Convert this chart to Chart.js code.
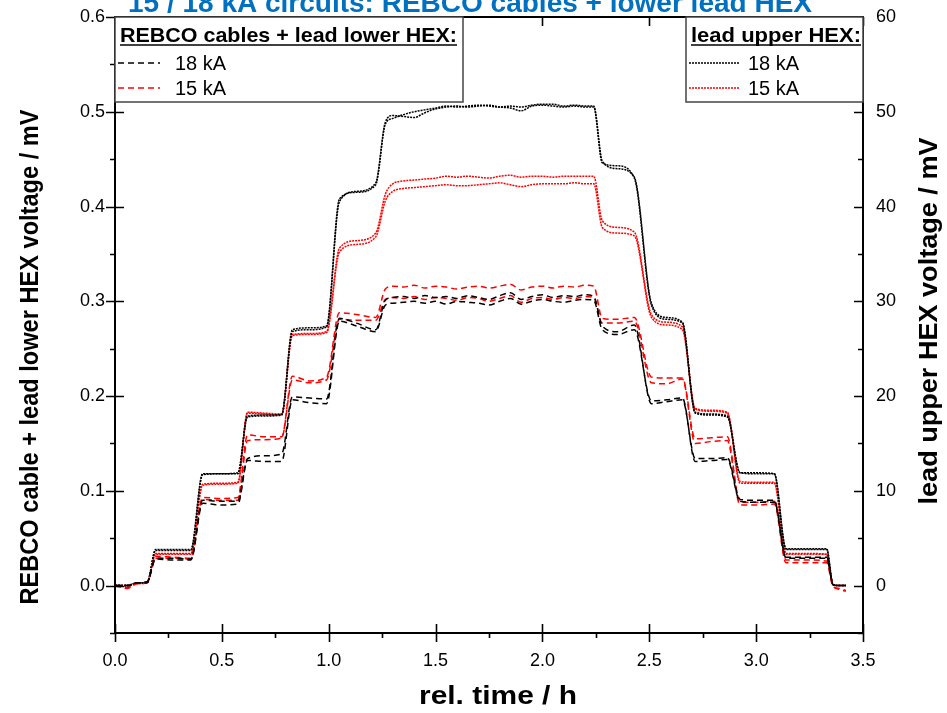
<!DOCTYPE html>
<html>
<head>
<meta charset="utf-8">
<title>15 / 18 kA circuits: REBCO cables + lower lead HEX</title>
<script src="https://cdn.jsdelivr.net/npm/chart.js@4.4.1/dist/chart.umd.min.js"></script>
<style>
html, body { margin: 0; padding: 0; background: #fff; overflow: hidden; }
#wrap { position: relative; width: 947px; height: 713px; }
</style>
</head>
<body>
<div id="wrap"><canvas id="voltChart"></canvas></div>
<script>

// rel. time / h (shared by all traces)
const hours = [
    0.00, 0.06, 0.085, 0.10, 0.15, 0.19, 0.27, 0.355, 0.41, 0.49,
    0.575, 0.62, 0.70, 0.78, 0.83, 0.91, 0.99, 1.05, 1.13, 1.22,
    1.265, 1.30, 1.35, 1.40, 1.45, 1.50, 1.55, 1.60, 1.65, 1.70,
    1.75, 1.80, 1.85, 1.90, 1.95, 2.00, 2.05, 2.10, 2.15, 2.20,
    2.24, 2.28, 2.35, 2.43, 2.51, 2.58, 2.655, 2.715, 2.79, 2.865,
    2.925, 3.00, 3.085, 3.14, 3.23, 3.33, 3.36, 3.39, 3.42
];

const xTicks = [0, 0.5, 1.0, 1.5, 2.0, 2.5, 3.0, 3.5];
const leftTicks = [0, 0.1, 0.2, 0.3, 0.4, 0.5, 0.6];
const rightTicks = [0, 10, 20, 30, 40, 50, 60];

// REBCO cables + lead lower HEX voltage / mV  (left axis)
const lower18a = [
    0, 0, 0.002, 0.003, 0.004, 0.029, 0.029, 0.028, 0.090, 0.089,
    0.089, 0.134, 0.137, 0.139, 0.199, 0.198, 0.197, 0.282, 0.277, 0.270,
    0.301, 0.304, 0.305, 0.303, 0.306, 0.304, 0.305, 0.303, 0.306, 0.304,
    0.302, 0.306, 0.309, 0.302, 0.305, 0.307, 0.304, 0.306, 0.305, 0.307,
    0.305, 0.274, 0.268, 0.275, 0.192, 0.194, 0.196, 0.134, 0.134, 0.135,
    0.091, 0.090, 0.090, 0.029, 0.029, 0.029, 0.001, 0, 0
];
const lower18b = [
    0, 0, 0.001, 0.003, 0.003, 0.028, 0.027, 0.027, 0.087, 0.085,
    0.086, 0.132, 0.131, 0.131, 0.196, 0.193, 0.192, 0.279, 0.274, 0.268,
    0.296, 0.298, 0.299, 0.300, 0.298, 0.300, 0.297, 0.300, 0.299, 0.298,
    0.296, 0.300, 0.303, 0.297, 0.300, 0.302, 0.300, 0.299, 0.301, 0.302,
    0.301, 0.270, 0.265, 0.270, 0.195, 0.196, 0.198, 0.131, 0.132, 0.133,
    0.089, 0.088, 0.088, 0.030, 0.030, 0.030, 0.001, 0, 0
];
const lower15a = [
    0, -0.002, 0.001, 0.003, 0.004, 0.031, 0.030, 0.029, 0.093, 0.092,
    0.093, 0.159, 0.157, 0.157, 0.221, 0.216, 0.220, 0.288, 0.286, 0.283,
    0.313, 0.316, 0.315, 0.317, 0.314, 0.316, 0.315, 0.313, 0.315, 0.316,
    0.314, 0.316, 0.318, 0.312, 0.315, 0.316, 0.314, 0.316, 0.315, 0.317,
    0.316, 0.282, 0.281, 0.283, 0.220, 0.219, 0.219, 0.155, 0.156, 0.157,
    0.088, 0.088, 0.089, 0.027, 0.027, 0.026, 0.000, -0.004, -0.006
];
const lower15b = [
    0, -0.003, 0.000, 0.002, 0.003, 0.029, 0.029, 0.028, 0.091, 0.090,
    0.090, 0.153, 0.154, 0.156, 0.217, 0.214, 0.217, 0.281, 0.280, 0.280,
    0.302, 0.304, 0.303, 0.305, 0.302, 0.304, 0.303, 0.301, 0.304, 0.303,
    0.300, 0.303, 0.306, 0.299, 0.303, 0.304, 0.302, 0.304, 0.303, 0.305,
    0.304, 0.277, 0.277, 0.279, 0.214, 0.213, 0.218, 0.150, 0.152, 0.153,
    0.085, 0.085, 0.086, 0.024, 0.024, 0.024, -0.001, -0.003, -0.005
];

// lead upper HEX voltage / mV  (right axis)
const upper18a = [
    0, 0, 0.2, 0.3, 0.3, 3.7, 3.7, 3.7, 11.7, 11.8,
    11.8, 17.8, 17.9, 18.0, 26.8, 27.0, 27.3, 40.5, 41.6, 42.5,
    48.7, 49.3, 49.7, 50.0, 50.2, 50.4, 50.6, 50.5, 50.6, 50.7,
    50.6, 50.5, 50.6, 50.5, 50.7, 50.8, 50.8, 50.6, 50.7, 50.6,
    50.6, 44.8, 44.0, 43.1, 29.8, 28.3, 27.8, 18.3, 18.1, 17.9,
    11.9, 11.9, 11.8, 3.8, 3.8, 3.8, 0.1, 0, 0
];
const upper18b = [
    0, 0, 0.2, 0.3, 0.3, 3.8, 3.8, 3.8, 11.8, 11.8,
    11.9, 17.9, 18.0, 18.1, 27.0, 27.2, 27.4, 40.8, 41.5, 42.3,
    48.9, 49.6, 49.5, 49.4, 49.9, 50.3, 50.5, 50.6, 50.5, 50.6,
    50.7, 50.5, 50.4, 50.1, 50.6, 50.7, 50.6, 50.5, 50.6, 50.5,
    50.5, 44.6, 44.3, 43.0, 29.6, 28.1, 27.7, 18.2, 18.0, 17.8,
    11.9, 11.8, 11.8, 3.9, 3.9, 3.9, 0.1, 0, 0
];
const upper15a = [
    0, 0, 0.1, 0.3, 0.3, 3.4, 3.4, 3.4, 10.7, 10.8,
    10.9, 18.3, 18.2, 18.1, 26.5, 26.6, 26.8, 35.6, 36.4, 37.2,
    41.3, 42.4, 42.7, 42.8, 42.9, 43.0, 43.2, 43.1, 43.2, 43.1,
    43.0, 43.2, 43.3, 43.1, 43.2, 43.2, 43.1, 43.2, 43.2, 43.2,
    43.2, 38.5, 37.8, 37.3, 28.6, 27.8, 27.3, 18.7, 18.5, 18.3,
    11.0, 10.9, 10.9, 3.4, 3.4, 3.3, 0.1, 0, 0
];
const upper15b = [
    0, 0, 0.1, 0.2, 0.3, 3.3, 3.3, 3.3, 10.6, 10.7,
    10.8, 18.2, 18.1, 18.0, 26.4, 26.5, 26.7, 35.2, 36.0, 36.8,
    40.6, 41.6, 41.9, 42.0, 42.1, 42.2, 42.3, 42.2, 42.2, 42.3,
    42.4, 42.5, 42.3, 42.1, 42.3, 42.4, 42.4, 42.4, 42.5, 42.4,
    42.4, 37.8, 37.2, 36.9, 28.3, 27.5, 27.0, 18.6, 18.4, 18.2,
    10.8, 10.8, 10.8, 3.3, 3.3, 3.3, 0.1, 0, 0
];

const RED = "#ff0000";
const BLACK = "#000000";
const DASH = [6, 4];
const DOT = [2, 1];
const FONT = "'Liberation Sans', Arial, sans-serif";

function trace(values, color, dash, axis) {
    return {
        data: hours.map((t, i) => ({ x: t, y: values[i] })),
        borderColor: color,
        borderWidth: 1.5,
        borderDash: dash,
        pointRadius: 0,
        cubicInterpolationMode: "monotone",
        fill: false,
        yAxisID: axis
    };
}

// draw text squeezed/stretched to a given width
function fitText(ctx, text, x, y, width, rot) {
    const w = ctx.measureText(text).width;
    ctx.save();
    ctx.translate(x, y);
    if (rot) ctx.rotate(rot);
    ctx.scale(width / w, 1);
    ctx.fillText(text, 0, 0);
    ctx.restore();
}

// frame, inward/outward ticks, legend boxes, titles
const decor = {
    id: "decor",
    afterDatasetsDraw(chart) {
        const ctx = chart.ctx;
        const a = chart.chartArea;
        const xs = chart.scales.x;
        const yl = chart.scales.y;

        ctx.save();
        ctx.strokeStyle = "#000";
        ctx.lineWidth = 1.6;
        ctx.beginPath();

        for (let k = 0; k <= 14; k++) {
            const px = Math.round(xs.getPixelForValue(k * 0.25)) + 0.5;
            if (k % 2 === 0) {
                ctx.moveTo(px, a.bottom - 9); ctx.lineTo(px, a.bottom + 9);
                ctx.moveTo(px, a.top); ctx.lineTo(px, a.top + 9);
            } else {
                ctx.moveTo(px, a.bottom); ctx.lineTo(px, a.bottom + 5);
            }
        }
        for (let k = -1; k <= 12; k++) {
            const py = Math.round(yl.getPixelForValue(k * 0.05)) + 0.5;
            if (k >= 0 && k % 2 === 0) {
                ctx.moveTo(a.left - 9, py); ctx.lineTo(a.left + 9, py);
                ctx.moveTo(a.right - 9, py); ctx.lineTo(a.right, py);
            } else {
                ctx.moveTo(a.left - 5, py); ctx.lineTo(a.left, py);
                ctx.moveTo(a.right - 5, py); ctx.lineTo(a.right, py);
            }
        }
        ctx.stroke();

        ctx.lineWidth = 2;
        ctx.strokeRect(a.left, a.top, a.right - a.left, a.bottom - a.top);

        // legend boxes
        function box(x1, x2, title, titleW, rows, dash) {
            ctx.fillStyle = "#fff";
            ctx.fillRect(x1, a.top, x2 - x1, 85);
            ctx.strokeStyle = "#444";
            ctx.lineWidth = 1.5;
            ctx.strokeRect(x1, a.top, x2 - x1, 85);

            ctx.fillStyle = "#000";
            ctx.font = "bold 21px " + FONT;
            ctx.textBaseline = "alphabetic";
            ctx.textAlign = "left";
            fitText(ctx, title, x1 + 5, a.top + 25, titleW);
            ctx.strokeStyle = "#000";
            ctx.lineWidth = 1.5;
            ctx.setLineDash([]);
            ctx.beginPath();
            ctx.moveTo(x1 + 5, a.top + 28);
            ctx.lineTo(x1 + 5 + titleW, a.top + 28);
            ctx.stroke();

            ctx.font = "20px " + FONT;
            rows.forEach((r, i) => {
                const y = a.top + 46 + i * 25;
                ctx.strokeStyle = r.color;
                ctx.lineWidth = 1.5;
                ctx.setLineDash(dash);
                ctx.beginPath();
                ctx.moveTo(x1 + 3, y);
                ctx.lineTo(x1 + r.len, y);
                ctx.stroke();
                ctx.setLineDash([]);
                ctx.fillStyle = "#000";
                ctx.fillText(r.label, x1 + r.len + r.gap, y + 7);
            });
        }
        box(a.left, 463, "REBCO cables + lead lower HEX:", 337,
            [{ label: "18 kA", color: BLACK, len: 45, gap: 15 },
             { label: "15 kA", color: RED, len: 45, gap: 15 }], DASH);
        box(686, a.right, "lead upper HEX:", 170,
            [{ label: "18 kA", color: BLACK, len: 54, gap: 8 },
             { label: "15 kA", color: RED, len: 54, gap: 8 }], DOT);

        // top title, cut by the page edge
        ctx.fillStyle = "#0070c0";
        ctx.font = "bold 28px " + FONT;
        ctx.textAlign = "center";
        fitText(ctx, "15 / 18 kA circuits: REBCO cables + lower lead HEX", 470, 12, 684);

        // axis titles
        ctx.fillStyle = "#000";
        ctx.font = "bold 25px " + FONT;
        ctx.textBaseline = "middle";
        fitText(ctx, "rel. time / h", 498, 697, 158);
        fitText(ctx, "REBCO cable + lead lower HEX voltage / mV", 31, 357, 495, -Math.PI / 2);
        fitText(ctx, "lead upper HEX voltage / mV", 930, 321, 367, -Math.PI / 2);

        ctx.restore();
    }
};

const tickFont = { family: FONT, size: 18 };

// no extra room for half tick labels at the ends of the axes
function noPad(s) {
    s.paddingTop = 0;
    s.paddingBottom = 0;
    s.paddingLeft = 0;
    s.paddingRight = 0;
}

new Chart(document.getElementById("voltChart"), {
    type: "line",
    data: {
        datasets: [
            trace(lower18a, BLACK, DASH, "y"),
            trace(lower18b, BLACK, DASH, "y"),
            trace(lower15a, RED, DASH, "y"),
            trace(lower15b, RED, DASH, "y"),
            trace(upper18a, BLACK, DOT, "y1"),
            trace(upper18b, BLACK, DOT, "y1"),
            trace(upper15a, RED, DOT, "y1"),
            trace(upper15b, RED, DOT, "y1")
        ]
    },
    options: {
        responsive: true,
        maintainAspectRatio: false,
        animation: false,
        layout: { padding: { top: 17, left: 0, right: 0, bottom: 0 } },
        plugins: {
            legend: { display: false },
            title: { display: false },
            tooltip: { enabled: false }
        },
        scales: {
            x: {
                type: "linear",
                min: 0,
                max: 3.5,
                afterBuildTicks: s => { s.ticks = xTicks.map(v => ({ value: v })); },
                afterFit: s => { s.height = 80; noPad(s); },
                grid: { display: false, drawTicks: false },
                border: { display: false },
                ticks: {
                    padding: 17,
                    color: "#000",
                    font: tickFont,
                    maxRotation: 0,
                    callback: v => v.toFixed(1)
                }
            },
            y: {
                position: "left",
                min: -0.05,
                max: 0.6,
                afterBuildTicks: s => { s.ticks = leftTicks.map(v => ({ value: v })); },
                afterFit: s => { s.width = 115; noPad(s); },
                grid: { display: false, drawTicks: false },
                border: { display: false },
                ticks: {
                    padding: 10,
                    color: "#000",
                    font: tickFont,
                    callback: v => v.toFixed(1)
                }
            },
            y1: {
                position: "right",
                min: -5,
                max: 60,
                afterBuildTicks: s => { s.ticks = rightTicks.map(v => ({ value: v })); },
                afterFit: s => { s.width = 84; noPad(s); },
                grid: { display: false, drawTicks: false },
                border: { display: false },
                ticks: {
                    padding: 13,
                    color: "#000",
                    font: tickFont,
                    callback: v => String(v)
                }
            }
        }
    },
    plugins: [decor]
});

</script>
</body>
</html>
